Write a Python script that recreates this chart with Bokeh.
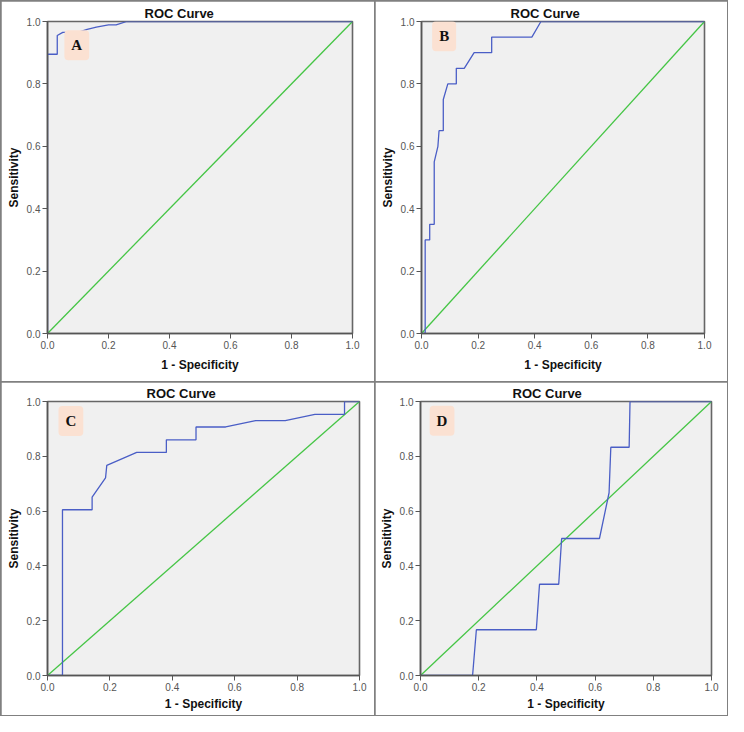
from bokeh.plotting import figure
from bokeh.layouts import row, column
from bokeh.models import Range1d, FixedTicker, PrintfTickFormatter, Label
from bokeh.embed import file_html
from bokeh.resources import INLINE

# ---- data ----
ticks = [0.0, 0.2, 0.4, 0.6, 0.8, 1.0]
diag_x = [0.0, 1.0]
diag_y = [0.0, 1.0]

a_fpr = [0.0, 0.0, 0.032, 0.032, 0.05, 0.10, 0.13, 0.16, 0.20, 0.225, 0.26, 1.0]
a_tpr = [0.0, 0.895, 0.895, 0.955, 0.965, 0.965, 0.975, 0.982, 0.989, 0.989, 1.0, 1.0]

b_fpr = [0.0, 0.013, 0.013, 0.029, 0.029, 0.045, 0.045, 0.058, 0.062, 0.077, 0.077,
         0.093, 0.123, 0.123, 0.151, 0.186, 0.248, 0.248, 0.39, 0.422, 1.0]
b_tpr = [0.0, 0.0, 0.30, 0.30, 0.35, 0.35, 0.55, 0.60, 0.65, 0.65, 0.75,
         0.80, 0.80, 0.85, 0.85, 0.90, 0.90, 0.95, 0.95, 1.0, 1.0]

c_fpr = [0.0, 0.048, 0.048, 0.143, 0.143, 0.186, 0.19, 0.286, 0.381, 0.381, 0.476,
         0.476, 0.571, 0.667, 0.762, 0.857, 0.952, 0.952, 1.0]
c_tpr = [0.0, 0.0, 0.605, 0.605, 0.651, 0.721, 0.767, 0.814, 0.814, 0.860, 0.860,
         0.907, 0.907, 0.930, 0.930, 0.953, 0.953, 1.0, 1.0]

d_fpr = [0.0, 0.179, 0.192, 0.398, 0.409, 0.475, 0.485, 0.615, 0.648, 0.654, 0.717, 0.72, 1.0]
d_tpr = [0.0, 0.0, 0.167, 0.167, 0.333, 0.333, 0.5, 0.5, 0.667, 0.833, 0.833, 1.0, 1.0]

panel_letters = ["A", "B", "C", "D"]
letter_pos = [(0.096, 0.924), (0.080, 0.953), (0.075, 0.929), (0.074, 0.930)]

title_text = "ROC Curve"
x_label = "1 - Specificity"
y_label = "Sensitivity"

SANS = "Liberation Sans"
SERIF = "Liberation Serif"
BLUE = "#4a5ec6"
GREEN = "#45c545"


def make_panel(fx, fy, letter, lpos, w, h, left, right, top, bottom,
               title_off, xlab_standoff, ylab_standoff):
    p = figure(width=w, height=h, output_backend="svg", toolbar_location=None,
               x_range=Range1d(0, 1), y_range=Range1d(0, 1),
               min_border_left=left, min_border_right=right,
               min_border_top=top, min_border_bottom=bottom,
               background_fill_color="#f0f0f0", border_fill_color="white",
               outline_line_color="#666666", outline_line_width=1.6)
    p.title.text = title_text
    p.title.text_font = SANS
    p.title.text_font_size = "13px"
    p.title.text_font_style = "bold"
    p.title.text_color = "#111111"
    p.title.align = "left"
    p.title.offset = title_off
    p.title.standoff = 2
    p.xgrid.visible = False
    p.ygrid.visible = False
    for ax, lab, st in ((p.xaxis[0], x_label, xlab_standoff), (p.yaxis[0], y_label, ylab_standoff)):
        ax.ticker = FixedTicker(ticks=ticks)
        ax.formatter = PrintfTickFormatter(format="%.1f")
        ax.minor_tick_line_color = None
        ax.major_tick_in = 0
        ax.major_tick_out = 5
        ax.major_tick_line_color = "#555555"
        ax.axis_line_color = "#555555"
        ax.axis_line_width = 1.5
        ax.major_label_text_font = SANS
        ax.major_label_text_font_size = "10px"
        ax.major_label_text_color = "#555555"
        ax.major_label_standoff = 2
        ax.axis_label = lab
        ax.axis_label_text_font = SANS
        ax.axis_label_text_font_size = "12px"
        ax.axis_label_text_font_style = "bold"
        ax.axis_label_text_color = "#111111"
        ax.axis_label_standoff = st
    p.line(diag_x, diag_y, line_color=GREEN, line_width=1.3)
    p.line(fx, fy, line_color=BLUE, line_width=1.3)
    p.add_layout(Label(x=lpos[0], y=lpos[1], text=letter, text_font=SERIF,
                       text_font_size="15px", text_font_style="bold",
                       text_color="#111111", text_align="center",
                       text_baseline="middle", background_fill_color="#fbe1d2",
                       padding=7, border_radius=4))
    return p


pA = make_panel(a_fpr, a_tpr, panel_letters[0], letter_pos[0], 373, 380,
                46, 22, 20, 48, 97, 6, 3)
pB = make_panel(b_fpr, b_tpr, panel_letters[1], letter_pos[1], 352, 380,
                46, 23, 18, 46, 89, 6, 3)
pC = make_panel(c_fpr, c_tpr, panel_letters[2], letter_pos[2], 373, 333,
                46, 15, 18, 40, 99, 3, 3)
pD = make_panel(d_fpr, d_tpr, panel_letters[3], letter_pos[3], 352, 333,
                45, 16, 17, 39, 92, 3, 3)

layout = column(row(pA, pB, spacing=1), row(pC, pD, spacing=1), spacing=1,
                styles={"background-color": "#808080", "padding": "1px"})

open("out.html", "w").write(file_html(layout, INLINE))
